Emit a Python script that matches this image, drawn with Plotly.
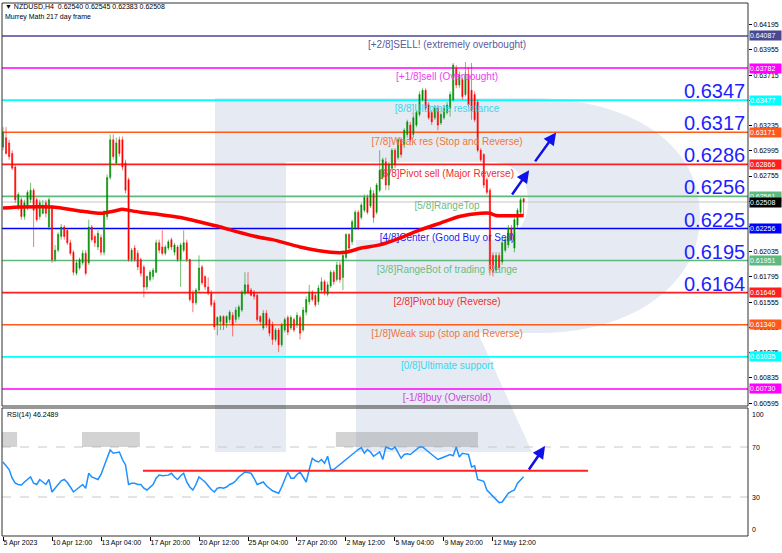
import plotly.graph_objects as go

# ---------------- DATA ----------------
# price values in 1e-4 units (pips), bar index 0..170 (H4 bars)
open_pips = [6303, 6312, 6307, 6297, 6284, 6246, 6253, 6237, 6245, 6253,
             6262, 6253, 6237, 6240, 6250, 6227, 6246, 6196, 6205, 6218,
             6227, 6224, 6212, 6203, 6183, 6188, 6193, 6202, 6193, 6227,
             6218, 6208, 6217, 6203, 6237, 6274, 6310, 6288, 6310, 6310,
             6288, 6272, 6196, 6207, 6202, 6196, 6189, 6170, 6177, 6180,
             6184, 6212, 6208, 6202, 6207, 6215, 6203, 6208, 6196, 6205,
             6212, 6196, 6164, 6155, 6167, 6189, 6180, 6170, 6164, 6155,
             6134, 6137, 6142, 6136, 6139, 6143, 6139, 6142, 6148, 6164,
             6172, 6167, 6165, 6162, 6142, 6131, 6145, 6139, 6134, 6120,
             6129, 6115, 6129, 6141, 6131, 6139, 6134, 6141, 6129, 6146,
             6156, 6165, 6162, 6156, 6167, 6175, 6163, 6171, 6184, 6177,
             6191, 6179, 6198, 6220, 6213, 6226, 6241, 6236, 6243, 6255,
             6247, 6259, 6241, 6262, 6274, 6289, 6267, 6283, 6300, 6293,
             6310, 6305, 6315, 6324, 6315, 6324, 6334, 6348, 6357, 6343,
             6336, 6331, 6340, 6326, 6331, 6336, 6340, 6348, 6378, 6362,
             6367, 6353, 6372, 6357, 6353, 6346, 6300, 6296, 6272, 6262,
             6200, 6186, 6200, 6194, 6205, 6210, 6226, 6207, 6229, 6241,
             6254.0]
close_pips = [6317, 6297, 6294, 6283, 6253, 6258, 6237, 6250, 6260, 6262,
              6243, 6234, 6250, 6248, 6240, 6253, 6196, 6205, 6220, 6227,
              6218, 6212, 6202, 6184, 6193, 6196, 6202, 6183, 6227, 6215,
              6212, 6221, 6203, 6240, 6274, 6310, 6294, 6307, 6297, 6284,
              6262, 6196, 6205, 6196, 6189, 6183, 6170, 6180, 6184, 6186,
              6212, 6205, 6202, 6208, 6213, 6208, 6210, 6196, 6210, 6212,
              6196, 6158, 6155, 6167, 6188, 6174, 6170, 6164, 6153, 6132,
              6141, 6142, 6134, 6142, 6146, 6134, 6148, 6151, 6165, 6172,
              6165, 6162, 6161, 6139, 6137, 6145, 6134, 6126, 6120, 6129,
              6115, 6134, 6139, 6127, 6141, 6129, 6143, 6126, 6148, 6158,
              6165, 6158, 6153, 6169, 6175, 6165, 6172, 6184, 6175, 6191,
              6177, 6200, 6220, 6207, 6232, 6241, 6226, 6248, 6255, 6241,
              6262, 6236, 6267, 6281, 6291, 6267, 6286, 6300, 6286, 6310,
              6296, 6319, 6327, 6310, 6331, 6336, 6353, 6357, 6340, 6331,
              6327, 6340, 6324, 6334, 6340, 6343, 6353, 6381, 6362, 6372,
              6351, 6372, 6343, 6338, 6329, 6300, 6291, 6267, 6260, 6186,
              6184, 6200, 6188, 6212, 6215, 6226, 6215, 6234, 6243, 6253,
              6250.8]
high_pips = [6322, 6322, 6310, 6300, 6286, 6260, 6255, 6253, 6262, 6269,
             6264, 6255, 6253, 6253, 6253, 6255, 6248, 6210, 6222, 6230,
             6229, 6226, 6215, 6205, 6196, 6198, 6205, 6205, 6234, 6229,
             6220, 6224, 6220, 6243, 6277, 6315, 6315, 6312, 6313, 6313,
             6291, 6274, 6207, 6210, 6205, 6198, 6191, 6181, 6186, 6188,
             6215, 6215, 6224, 6210, 6215, 6217, 6212, 6210, 6212, 6224,
             6215, 6197, 6167, 6169, 6200, 6191, 6181, 6179, 6167, 6158,
             6142, 6143, 6143, 6143, 6148, 6146, 6151, 6153, 6167, 6184,
             6184, 6169, 6167, 6164, 6143, 6148, 6148, 6141, 6137, 6131,
             6131, 6136, 6141, 6143, 6143, 6141, 6146, 6143, 6151, 6161,
             6172, 6167, 6165, 6172, 6179, 6177, 6175, 6186, 6186, 6194,
             6194, 6205, 6221, 6221, 6234, 6243, 6243, 6250, 6258, 6258,
             6265, 6262, 6269, 6300, 6293, 6293, 6289, 6302, 6302, 6312,
             6312, 6321, 6329, 6327, 6334, 6338, 6356, 6359, 6359, 6346,
             6338, 6343, 6343, 6336, 6343, 6346, 6356, 6383, 6381, 6375,
             6369, 6384, 6379, 6383, 6356, 6348, 6302, 6297, 6274, 6264,
             6203, 6203, 6203, 6215, 6217, 6229, 6229, 6236, 6245, 6255,
             6254.5]
low_pips = [6300, 6296, 6291, 6281, 6250, 6243, 6234, 6234, 6243, 6250,
            6208, 6232, 6234, 6239, 6236, 6224, 6193, 6194, 6203, 6215,
            6215, 6210, 6200, 6181, 6181, 6186, 6191, 6181, 6191, 6213,
            6208, 6205, 6200, 6200, 6234, 6272, 6291, 6286, 6294, 6281,
            6259, 6194, 6194, 6194, 6186, 6180, 6160, 6167, 6175, 6177,
            6183, 6202, 6200, 6200, 6205, 6205, 6200, 6194, 6170, 6203,
            6194, 6156, 6146, 6153, 6165, 6172, 6167, 6162, 6151, 6129,
            6124, 6129, 6129, 6131, 6136, 6123, 6136, 6139, 6146, 6162,
            6163, 6161, 6158, 6137, 6134, 6129, 6131, 6123, 6115, 6118,
            6108, 6113, 6127, 6124, 6129, 6127, 6131, 6120, 6127, 6143,
            6153, 6156, 6151, 6153, 6164, 6162, 6161, 6169, 6172, 6175,
            6174, 6167, 6196, 6205, 6210, 6224, 6224, 6234, 6241, 6239,
            6245, 6231, 6239, 6260, 6272, 6262, 6262, 6281, 6283, 6291,
            6293, 6302, 6312, 6308, 6312, 6322, 6332, 6346, 6338, 6329,
            6324, 6329, 6319, 6324, 6329, 6334, 6332, 6346, 6359, 6359,
            6348, 6351, 6340, 6329, 6327, 6298, 6289, 6264, 6258, 6181,
            6180, 6183, 6186, 6191, 6203, 6207, 6213, 6203, 6226, 6239,
            6238.3]

rsi_values = [58, 55, 52, 45, 41, 40, 39.6, 42, 44, 46,
              41, 40, 44, 42, 40, 44, 34, 37, 40, 43,
              44, 41.6, 38, 34, 36, 38, 40, 37, 49, 46,
              45, 44, 48, 55, 62, 67.6, 65, 65.5, 66, 60,
              55.6, 40, 41, 41, 40, 40, 37, 35.6, 38, 40,
              45, 47.6, 47, 47, 47.5, 49, 46, 44, 47, 49,
              42, 38, 35.6, 40, 46, 44, 42, 39, 36, 34,
              37, 37.5, 37, 38, 40, 41, 43, 46, 48, 50,
              49.5, 49, 45, 40, 41, 42, 39, 37, 35, 34,
              33, 38, 44, 50, 45, 45, 48, 50, 46, 42,
              52, 61, 59, 58, 60, 57, 62.6, 52, 52, 54,
              56, 58, 60, 62, 64, 66.6, 68, 69.5, 65, 68,
              66, 62.6, 64, 66, 60, 70, 69, 68, 70, 66,
              61, 64, 64.5, 64, 66, 68, 70, 70, 68, 66,
              64, 62, 60, 61, 62, 63, 64, 63, 70, 62,
              65, 64.5, 64, 54, 55, 44, 43.5, 42.6, 35.6, 33,
              30, 27.5, 25.5, 26, 30, 33, 34.5, 35.6, 41, 44,
              46.2489]

# moving average (red thick line) read at selected bars
ma_bars = [0, 6, 16, 26, 32, 36, 39, 41, 45, 51, 58, 64, 71, 77, 84, 88, 97,
           107, 112, 117, 123, 130, 136, 143, 149, 156, 159, 161, 170]
ma_pips = [6245, 6246, 6246, 6242, 6240, 6242, 6244, 6243, 6241, 6239, 6236,
           6232, 6227, 6222, 6217, 6215, 6208, 6203, 6203, 6207, 6210, 6217,
           6224, 6231, 6237, 6240, 6240, 6238, 6238]

# Murrey Math levels
level_prices = [0.64087, 0.63782, 0.63477, 0.63171, 0.62866, 0.62561,
                0.62256, 0.61951, 0.61646, 0.61340, 0.61035, 0.60730]
level_names = ["[+2/8]SELL! (extremely overbought)", "[+1/8]sell (Overbought)",
               "[8/8]Ultimate resistance", "[7/8]Weak res (Stop and Reverse)",
               "[6/8]Pivot sell (Major Reverse)", "[5/8]RangeTop",
               "[4/8]Center (Good Buy or Sell)", "[3/8]RangeBot of trading Range",
               "[2/8]Pivot buy (Reverse)", "[1/8]Weak sup (stop and Reverse)",
               "[0/8]Ultimate support", "[-1/8]buy (Oversold)"]
level_box_text = ["0.64087", "0.63782", "0.63477", "0.63171", "0.62866", "0.62561",
                  "0.62256", "0.61951", "0.61646", "0.61340", "0.61035", "0.60730"]
level_line_colors = ["#4B4890", "#FF00FF", "#00FFFF", "#FF5A1A", "#FF1E1E", "#5DB97C",
                     "#0000FF", "#5DB97C", "#FF1E1E", "#FF5A1A", "#00FFFF", "#FF00FF"]
level_text_colors = ["#5A5A9C", "#F03CF0", "#38D6EE", "#EE7640", "#EE3030", "#6CBC84",
                     "#1E1EF0", "#6CBC84", "#EE3030", "#EE7640", "#38D6EE", "#C848D8"]
label_bar = 145

big_numbers = ["0.6347", "0.6317", "0.6286", "0.6256", "0.6225", "0.6195", "0.6164"]
big_number_levels = [0.63477, 0.63171, 0.62866, 0.62561, 0.62256, 0.61951, 0.61646]

current_price = 0.62508
current_price_text = "0.62508"

price_tick_vals = [0.64195, 0.63955, 0.63715, 0.63475, 0.63235, 0.62995, 0.62755, 0.62515,
                   0.62275, 0.62035, 0.61795, 0.61555, 0.61315, 0.61075, 0.60835, 0.60595]
time_tick_bars = [0, 16, 32, 48, 64, 80, 96, 112, 128, 144, 160]
time_tick_text = ["5 Apr 2023", "10 Apr 12:00", "13 Apr 04:00", "17 Apr 20:00", "20 Apr 12:00",
                  "25 Apr 04:00", "27 Apr 20:00", "2 May 12:00", "5 May 04:00", "9 May 20:00",
                  "12 May 12:00"]
rsi_tick_vals = [100, 70, 30, 0]
rsi_levels_dashed = [70, 30]
rsi_zone_bars = [(-0.33, 4.6), (25.8, 44.7), (108.7, 155.1)]
rsi_zone_range = (70, 82)
rsi_trend_bars = [45.7, 191]
rsi_trend_level = 51

# forecast arrows: (tail bar, tail price) -> (head bar, head price)
price_arrows = [((165.9, 0.62565), (171.8, 0.62810)), ((173.4, 0.62880), (180.6, 0.63170))]
rsi_arrow = ((171.4, 50.8), (177.0, 70.8))

header_1 = "\u25bc NZDUSD,H4  0.62540 0.62545 0.62383 0.62508"
header_2 = "Murrey Math 217 day frame"
rsi_title = "RSI(14) 46.2489"

# ---------------- LAYOUT HELPERS ----------------
W, H = 782, 553
PL, PR, PT, PB = 2, 748, 3, 536
def px(x):
    return (x - PL) / (PR - PL)
def py(y):
    return (PB - y) / (PB - PT)

X_RANGE = [-0.3265, 243.27]
MAIN_DOMAIN = [py(406), 1.0]
RSI_DOMAIN = [0.0, py(408)]
PRICE_RANGE = [0.605679, 0.644005]
RSI_RANGE = [-1.2, 101.2]
FONT = "Liberation Sans"

def rsi_paper(v):
    return RSI_DOMAIN[0] + (v - RSI_RANGE[0]) / (RSI_RANGE[1] - RSI_RANGE[0]) * (RSI_DOMAIN[1] - RSI_DOMAIN[0])

bars = list(range(len(close_pips)))
to_price = lambda arr: [v / 10000 for v in arr]

fig = go.Figure()

# level labels (drawn beneath candles)
fig.add_trace(go.Scatter(
    x=[label_bar] * len(level_prices), y=level_prices, mode="markers+text",
    marker=dict(size=6, color="rgba(0,0,0,0)"),
    text=level_names, textposition="bottom center",
    textfont=dict(family=FONT, size=10, color=level_text_colors),
    hoverinfo="skip", showlegend=False, xaxis="x", yaxis="y"))

fig.add_trace(go.Candlestick(
    x=bars, open=to_price(open_pips), high=to_price(high_pips),
    low=to_price(low_pips), close=to_price(close_pips),
    increasing=dict(line=dict(color="rgba(0,140,0,0.55)", width=1), fillcolor="#008A00"),
    decreasing=dict(line=dict(color="rgba(255,0,0,0.55)", width=1), fillcolor="#FF0000"),
    whiskerwidth=0, hoverinfo="skip", showlegend=False, xaxis="x", yaxis="y"))

fig.add_trace(go.Scatter(
    x=ma_bars, y=to_price(ma_pips), mode="lines",
    line=dict(color="#FF0000", width=3.5, shape="spline", smoothing=0.6),
    hoverinfo="skip", showlegend=False, xaxis="x", yaxis="y"))

fig.add_trace(go.Scatter(
    x=bars, y=rsi_values, mode="lines", line=dict(color="#1E90FF", width=1.5),
    hoverinfo="skip", showlegend=False, xaxis="x2", yaxis="y2"))

shapes = []
WM = "#E6EBF3"
def P(x, y):
    return f"{px(x):.5f},{py(y):.5f}"
# watermark "R" (decorative background)
shapes.append(dict(type="rect", xref="paper", yref="paper", x0=px(215), x1=px(286),
                   y0=py(452), y1=py(98), fillcolor=WM, line=dict(width=0), layer="below"))
wm_path = ("M " + P(286, 98) + " L " + P(530, 98) +
           " C " + P(625, 98) + " " + P(700, 140) + " " + P(700, 215) +
           " C " + P(700, 290) + " " + P(625, 333) + " " + P(540, 333) +
           " L " + P(478, 333) + " L " + P(532, 452) + " L " + P(356, 452) +
           " L " + P(356, 240) + " L " + P(490, 240) +
           " C " + P(515, 240) + " " + P(528, 225) + " " + P(528, 201) +
           " C " + P(528, 177) + " " + P(515, 162) + " " + P(490, 162) +
           " L " + P(286, 162) + " Z")
shapes.append(dict(type="path", xref="paper", yref="paper", path=wm_path,
                   fillcolor=WM, line=dict(width=0), layer="below"))

# bid line
shapes.append(dict(type="line", xref="paper", yref="y", x0=0, x1=1, y0=current_price,
                   y1=current_price, line=dict(color="#C4C4C4", width=1), layer="below"))
# Murrey lines
for p, c in zip(level_prices, level_line_colors):
    shapes.append(dict(type="line", xref="paper", yref="y", x0=0, x1=1, y0=p, y1=p,
                       line=dict(color=c, width=1.6), layer="below"))
# RSI dashed levels
for v in rsi_levels_dashed:
    shapes.append(dict(type="line", xref="paper", yref="y2", x0=0, x1=1, y0=v, y1=v,
                       line=dict(color="#C8C8C8", width=1, dash="dash"), layer="below"))
# RSI overbought zones
for a, b in rsi_zone_bars:
    shapes.append(dict(type="rect", xref="x2", yref="y2", x0=a, x1=b,
                       y0=rsi_zone_range[0], y1=rsi_zone_range[1],
                       fillcolor="rgba(150,150,150,0.42)", line=dict(width=0), layer="below"))
# RSI trend line
shapes.append(dict(type="line", xref="x2", yref="y2", x0=rsi_trend_bars[0], x1=rsi_trend_bars[1],
                   y0=rsi_trend_level, y1=rsi_trend_level, line=dict(color="#FF2020", width=2)))
# frames
shapes.append(dict(type="rect", xref="paper", yref="paper", x0=0, x1=1, y0=py(406), y1=1,
                   line=dict(color="#303030", width=1), layer="above"))
shapes.append(dict(type="rect", xref="paper", yref="paper", x0=0, x1=1, y0=0, y1=py(408),
                   line=dict(color="#303030", width=1), layer="above"))

ann = []
ann.append(dict(text=header_1, xref="paper", yref="paper", x=px(3), y=py(7), xanchor="left",
                yanchor="middle", showarrow=False, font=dict(family=FONT, size=7, color="#000")))
ann.append(dict(text=header_2, xref="paper", yref="paper", x=px(3), y=py(17), xanchor="left",
                yanchor="middle", showarrow=False, font=dict(family=FONT, size=7, color="#000")))
ann.append(dict(text=rsi_title, xref="paper", yref="paper", x=px(5), y=py(415), xanchor="left",
                yanchor="middle", showarrow=False, font=dict(family=FONT, size=7, color="#000")))
# big level numbers
for t, p in zip(big_numbers, big_number_levels):
    ann.append(dict(text=t, xref="paper", yref="y", x=px(745.5), y=p, xanchor="right",
                    yanchor="bottom", yshift=-3, showarrow=False, borderpad=0,
                    font=dict(family=FONT, size=20, color="#1E1EFF")))
# price boxes on the right axis
for t, p, c in zip(level_box_text, level_prices, level_line_colors):
    ann.append(dict(text=t, xref="paper", yref="y", x=px(749), y=p, xanchor="left",
                    yanchor="middle", showarrow=False, bgcolor=c, width=31, height=9,
                    borderpad=0, align="left", font=dict(family=FONT, size=7, color="#FFFFFF")))
ann.append(dict(text=current_price_text, xref="paper", yref="y", x=px(749), y=current_price,
                xanchor="left", yanchor="middle", showarrow=False, bgcolor="#000000",
                width=31, height=9, borderpad=0, align="left",
                font=dict(family=FONT, size=7, color="#FFFFFF")))
# RSI scale labels (100 and 0 pulled inside the panel, as in the terminal)
rsi_label_shift = {100: -5, 70: 0, 30: 0, 0: 5}
for v in rsi_tick_vals:
    ann.append(dict(text=str(v), xref="paper", yref="paper", x=px(750), y=rsi_paper(v),
                    xanchor="left", yanchor="middle", yshift=rsi_label_shift[v], showarrow=False,
                    font=dict(family=FONT, size=7, color="#000")))
# forecast arrows
for (tx, tp), (hx, hp) in price_arrows:
    ann.append(dict(x=hx, y=hp, ax=tx, ay=tp, xref="x", yref="y", axref="x", ayref="y",
                    showarrow=True, arrowhead=2, arrowsize=1, arrowwidth=2.5,
                    arrowcolor="#1010E8", text=""))
(tx, tv), (hx, hv) = rsi_arrow
ann.append(dict(x=hx, y=hv, ax=tx, ay=tv, xref="x2", yref="y2", axref="x2", ayref="y2",
                showarrow=True, arrowhead=2, arrowsize=1, arrowwidth=2.5,
                arrowcolor="#1010E8", text=""))

fig.update_layout(
    width=W, height=H, margin=dict(l=PL, r=W - PR, t=PT, b=H - PB, autoexpand=False),
    paper_bgcolor="white", plot_bgcolor="white", showlegend=False,
    boxgap=0.45,
    xaxis=dict(domain=[0, 1], range=X_RANGE, anchor="y", showticklabels=False,
               showgrid=False, zeroline=False, showline=False, ticks="", automargin=False,
               rangeslider=dict(visible=False)),
    xaxis2=dict(domain=[0, 1], range=X_RANGE, anchor="y2", tickvals=time_tick_bars,
                ticktext=time_tick_text, ticks="outside", ticklen=4, tickcolor="#000",
                ticklabelposition="outside right", tickangle=0, automargin=False,
                tickfont=dict(family=FONT, size=7, color="#000"),
                showgrid=False, zeroline=False, showline=False),
    yaxis=dict(domain=MAIN_DOMAIN, range=PRICE_RANGE, anchor="x", side="right",
               tickvals=price_tick_vals, ticktext=[f"{v:.5f}" for v in price_tick_vals],
               ticks="outside", ticklen=3, tickcolor="#000", automargin=False,
               tickfont=dict(family=FONT, size=7, color="#000"),
               showgrid=False, zeroline=False, showline=False),
    yaxis2=dict(domain=RSI_DOMAIN, range=RSI_RANGE, anchor="x2", side="right", automargin=False,
                showticklabels=False, ticks="", showgrid=False, zeroline=False, showline=False),
    shapes=shapes, annotations=ann,
)

fig.write_html("out.html", config={"displayModeBar": False},
               post_script="document.body.style.margin='0px';"
               "document.body.style.overflow='hidden';")
